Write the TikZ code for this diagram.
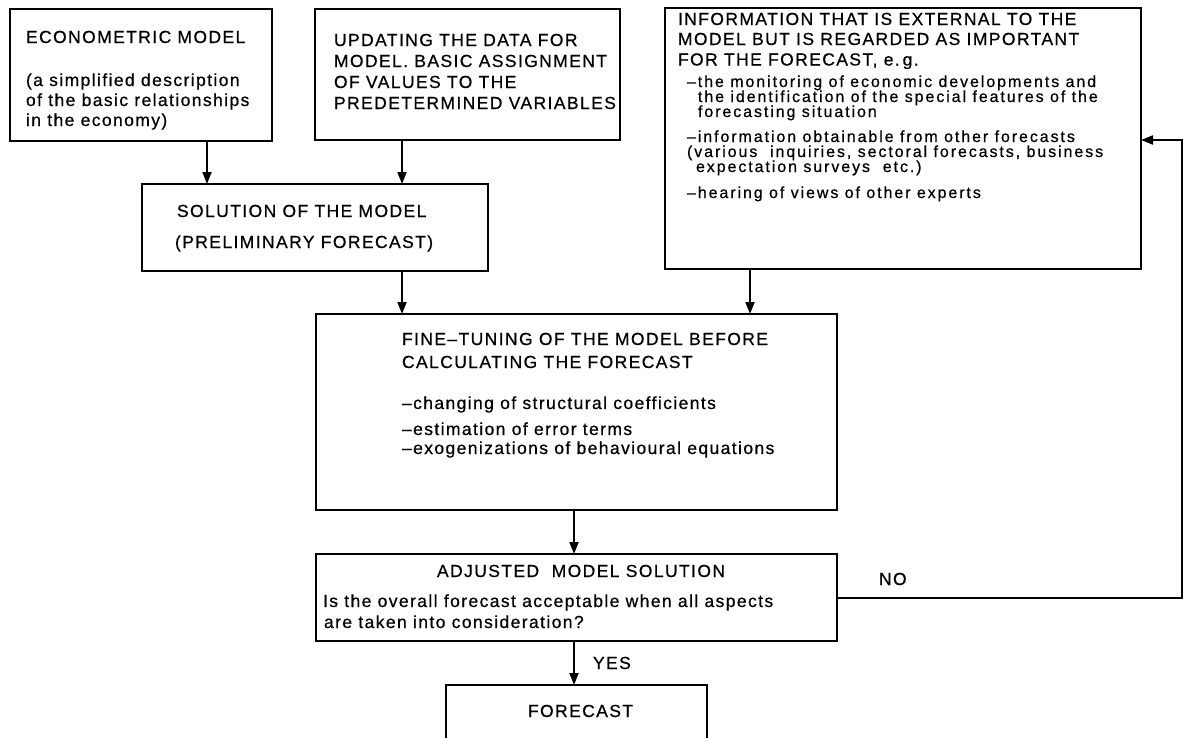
\documentclass[tikz,border=0pt]{standalone}
\usepackage{fontspec}
\setmainfont{Liberation Sans}[LetterSpace=8,FakeBold=0.6]
\usetikzlibrary{arrows.meta}
\begin{document}
\begin{tikzpicture}[x=1pt,y=-1pt,
  box/.style={draw, line width=2.2pt, rectangle, anchor=north west, inner sep=0pt, outer sep=0pt},
  txt/.style={anchor=base west, inner sep=0pt, outer sep=0pt, font=\fontsize{17.5}{20}\selectfont},
  txts/.style={anchor=base west, inner sep=0pt, outer sep=0pt, font=\fontsize{16}{15}\selectfont\addfontfeatures{LetterSpace=12}},
  arr/.style={line width=2pt, -{Triangle[length=12pt,width=9pt]}}]
\useasboundingbox (0,0) rectangle (1185,737);
\clip (0,0) rectangle (1185,737);
\fill[white] (0,0) rectangle (1185,737);
% boxes
\node[box, minimum width=262pt, minimum height=132pt] (b1) at (10,9) {};
\node[box, minimum width=305pt, minimum height=131pt] (b2) at (315,9) {};
\node[box, minimum width=476pt, minimum height=261pt] (b3) at (665,8) {};
\node[box, minimum width=346pt, minimum height=87pt] (sol) at (142,184) {};
\node[box, minimum width=521pt, minimum height=196pt] (fine) at (316,314) {};
\node[box, minimum width=521pt, minimum height=87pt] (adj) at (316,554) {};
\node[box, minimum width=261pt, minimum height=80pt] (fore) at (446,685) {};
% texts box1
\node[txt] (t1a) at (26,43) {ECONOMETRIC MODEL};
\node[txt] (t1b) at (26,86) {(a simplified description};
\node[txt] (t1c) at (26,106) {of the basic relationships};
\node[txt] (t1d) at (26,126) {in the economy)};
% box2
\node[txt] (t2a) at (334,46) {UPDATING THE DATA FOR};
\node[txt] (t2b) at (334,67) {MODEL. BASIC ASSIGNMENT};
\node[txt] (t2c) at (334,88) {OF VALUES TO THE};
\node[txt] (t2d) at (334,109) {PREDETERMINED VARIABLES};
% box3
\node[txt] (t3a) at (678,25) {INFORMATION THAT IS EXTERNAL TO THE};
\node[txt] (t3b) at (678,45) {MODEL BUT IS REGARDED AS IMPORTANT};
\node[txt] (t3c) at (678,65.5) {FOR THE FORECAST, e.\,g.};
\node[txts] (t3d) at (687,87) {–the monitoring of economic developments and};
\node[txts] (t3e) at (698,102) {the identification of the special features of the};
\node[txts] (t3f) at (698,117) {forecasting situation};
\node[txts] (t3g) at (687,142) {–information obtainable from other forecasts};
\node[txts] (t3h) at (687,157) {(various\ \ inquiries, sectoral forecasts, business};
\node[txts] (t3i) at (696,172) {expectation surveys\ \ etc.)};
\node[txts] (t3j) at (687,198) {–hearing of views of other experts};
% solution
\node[txt] (tsa) at (177,217) {SOLUTION OF THE MODEL};
\node[txt] (tsb) at (175,248) {(PRELIMINARY FORECAST)};
% fine tuning
\node[txt] (tfa) at (402,345) {FINE–TUNING OF THE MODEL BEFORE};
\node[txt] (tfb) at (402,368) {CALCULATING THE FORECAST};
\node[txt] (tfc) at (402,409) {–changing of structural coefficients};
\node[txt] (tfd) at (402,435) {–estimation of error terms};
\node[txt] (tfe) at (402,454) {–exogenizations of behavioural equations};
% adjusted
\node[txt] (taa) at (437,577) {ADJUSTED\ \ MODEL SOLUTION};
\node[txt] (tab) at (323,607) {Is\ the overall forecast acceptable when all aspects};
\node[txt] (tac) at (324,628) {are taken into consideration?};
% forecast
\node[txt] (tfo) at (528,717) {FORECAST};
% labels
\node[txt] (yes) at (593,669) {YES};
\node[txt] (no) at (879,585) {NO};
% connector x positions
\coordinate (x1) at (207,0);
\coordinate (x2) at (402,0);
\coordinate (x3) at (750,0);
\coordinate (x4) at (574,0);
\coordinate (c1) at (1182,597.5);
\coordinate (c2) at (1182,140);
% connectors
\draw[arr] (b1.south -| x1) -- (sol.north -| x1);
\draw[arr] (b2.south -| x2) -- (sol.north -| x2);
\draw[arr] (sol.south -| x2) -- (fine.north -| x2);
\draw[arr] (b3.south -| x3) -- (fine.north -| x3);
\draw[arr] (fine.south -| x4) -- (adj.north -| x4);
\draw[arr] (adj.south -| x4) -- (fore.north -| x4);
\draw[arr] (adj.east) -- (c1) -- (c2) -- (c2 -| b3.east);
\end{tikzpicture}
\end{document}
